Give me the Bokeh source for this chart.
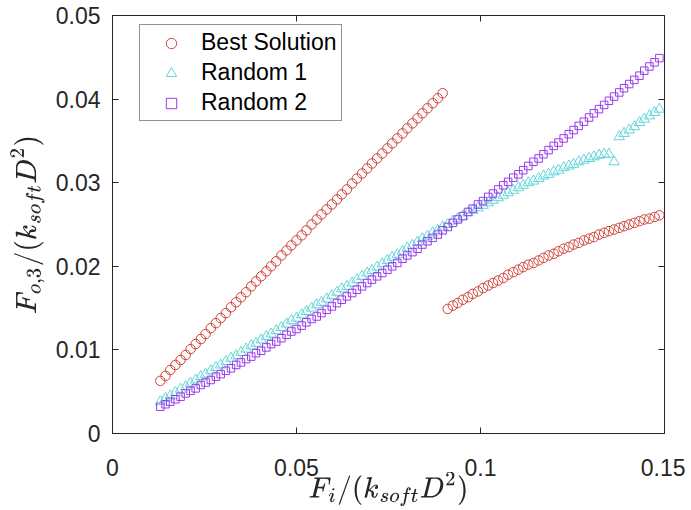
from bokeh.plotting import figure
from bokeh.models import LinearAxis, Range1d, FixedTicker, Legend, LegendItem
from bokeh.embed import file_html
from bokeh.resources import INLINE

x_vals = [0.0130, 0.0144, 0.0157, 0.0171, 0.0185, 0.0199, 0.0212, 0.0226, 0.0240, 0.0253,
          0.0267, 0.0281, 0.0294, 0.0308, 0.0322, 0.0336, 0.0349, 0.0363, 0.0377, 0.0390,
          0.0404, 0.0418, 0.0431, 0.0445, 0.0459, 0.0473, 0.0486, 0.0500, 0.0514, 0.0527,
          0.0541, 0.0555, 0.0568, 0.0582, 0.0596, 0.0610, 0.0623, 0.0637, 0.0651, 0.0664,
          0.0678, 0.0692, 0.0705, 0.0719, 0.0733, 0.0747, 0.0760, 0.0774, 0.0788, 0.0801,
          0.0815, 0.0829, 0.0842, 0.0856, 0.0870, 0.0884, 0.0897, 0.0911, 0.0925, 0.0938,
          0.0952, 0.0966, 0.0979, 0.0993, 0.1007, 0.1021, 0.1034, 0.1048, 0.1062, 0.1075,
          0.1089, 0.1103, 0.1116, 0.1130, 0.1144, 0.1158, 0.1171, 0.1185, 0.1199, 0.1212,
          0.1226, 0.1240, 0.1253, 0.1267, 0.1281, 0.1295, 0.1308, 0.1322, 0.1336, 0.1349,
          0.1363, 0.1377, 0.1390, 0.1404, 0.1418, 0.1432, 0.1445, 0.1459, 0.1473, 0.1486]

best_y = [0.0063, 0.0069, 0.0076, 0.0082, 0.0088, 0.0094, 0.0101, 0.0107, 0.0113, 0.0119,
          0.0126, 0.0132, 0.0138, 0.0144, 0.0151, 0.0157, 0.0163, 0.0169, 0.0176, 0.0182,
          0.0188, 0.0194, 0.0200, 0.0206, 0.0213, 0.0219, 0.0225, 0.0231, 0.0237, 0.0243,
          0.0250, 0.0256, 0.0262, 0.0268, 0.0274, 0.0280, 0.0286, 0.0292, 0.0299, 0.0305,
          0.0311, 0.0317, 0.0323, 0.0329, 0.0335, 0.0341, 0.0347, 0.0353, 0.0359, 0.0365,
          0.0371, 0.0377, 0.0383, 0.0389, 0.0395, 0.0401, 0.0407,
          0.0149, 0.0153, 0.0156, 0.0160, 0.0163, 0.0167, 0.0170, 0.0174, 0.0177, 0.0180,
          0.0183, 0.0186, 0.0190, 0.0193, 0.0196, 0.0199, 0.0202, 0.0204, 0.0207, 0.0210,
          0.0213, 0.0215, 0.0218, 0.0221, 0.0223, 0.0226, 0.0228, 0.0231, 0.0233, 0.0235,
          0.0238, 0.0240, 0.0242, 0.0244, 0.0246, 0.0248, 0.0250, 0.0252, 0.0254, 0.0256,
          0.0257, 0.0259, 0.0261]

random1_y = [0.0038, 0.0042, 0.0045, 0.0049, 0.0053, 0.0056, 0.0060, 0.0064, 0.0068, 0.0071,
             0.0075, 0.0079, 0.0082, 0.0086, 0.0090, 0.0093, 0.0097, 0.0101, 0.0105, 0.0108,
             0.0112, 0.0116, 0.0119, 0.0123, 0.0127, 0.0131, 0.0135, 0.0138, 0.0142, 0.0146,
             0.0150, 0.0154, 0.0157, 0.0161, 0.0165, 0.0169, 0.0173, 0.0176, 0.0180, 0.0184,
             0.0188, 0.0192, 0.0195, 0.0199, 0.0203, 0.0207, 0.0211, 0.0214, 0.0218, 0.0222,
             0.0225, 0.0229, 0.0233, 0.0236, 0.0240, 0.0243, 0.0247, 0.0250, 0.0254, 0.0257,
             0.0260, 0.0264, 0.0267, 0.0270, 0.0273, 0.0276, 0.0279, 0.0282, 0.0285, 0.0288,
             0.0291, 0.0294, 0.0297, 0.0300, 0.0302, 0.0305, 0.0308, 0.0310, 0.0313, 0.0315,
             0.0318, 0.0320, 0.0322, 0.0325, 0.0327, 0.0329, 0.0331, 0.0333, 0.0334, 0.0334,
             0.0325, 0.0355, 0.0359, 0.0363, 0.0367, 0.0372, 0.0376, 0.0380, 0.0384, 0.0388]

random2_y = [0.0032, 0.0035, 0.0038, 0.0041, 0.0044, 0.0048, 0.0051, 0.0054, 0.0058, 0.0061,
             0.0064, 0.0068, 0.0071, 0.0075, 0.0078, 0.0082, 0.0085, 0.0089, 0.0092, 0.0096,
             0.0099, 0.0103, 0.0107, 0.0110, 0.0114, 0.0118, 0.0122, 0.0125, 0.0129, 0.0133,
             0.0137, 0.0140, 0.0144, 0.0148, 0.0152, 0.0156, 0.0160, 0.0164, 0.0168, 0.0172,
             0.0176, 0.0180, 0.0184, 0.0188, 0.0192, 0.0196, 0.0200, 0.0204, 0.0209, 0.0213,
             0.0217, 0.0221, 0.0226, 0.0230, 0.0234, 0.0238, 0.0243, 0.0247, 0.0252, 0.0256,
             0.0260, 0.0265, 0.0269, 0.0274, 0.0278, 0.0283, 0.0287, 0.0292, 0.0297, 0.0301,
             0.0306, 0.0310, 0.0315, 0.0320, 0.0325, 0.0329, 0.0334, 0.0339, 0.0344, 0.0348,
             0.0353, 0.0358, 0.0363, 0.0368, 0.0373, 0.0378, 0.0383, 0.0388, 0.0393, 0.0398,
             0.0403, 0.0408, 0.0413, 0.0418, 0.0423, 0.0428, 0.0434, 0.0439, 0.0444, 0.0449]

series_names = ["Best Solution", "Random 1", "Random 2"]

x_ticks = [0, 0.05, 0.1, 0.15]
x_tick_labels = ["0", "0.05", "0.1", "0.15"]
y_ticks = [0, 0.01, 0.02, 0.03, 0.04, 0.05]
y_tick_labels = ["0", "0.01", "0.02", "0.03", "0.04", "0.05"]

AX = "#262626"
FONT = "Liberation Sans"

p = figure(width=685, height=510, x_range=Range1d(0, 0.15), y_range=Range1d(0, 0.05),
           output_backend="svg", toolbar_location=None,
           min_border_left=112, min_border_right=21, min_border_top=15, min_border_bottom=77)
p.xgrid.visible = False
p.ygrid.visible = False
p.outline_line_color = AX
p.outline_line_width = 1
p.background_fill_color = "white"
p.border_fill_color = "white"

def style_axis(ax, ticks, labels, show_labels):
    ax.ticker = FixedTicker(ticks=ticks)
    ax.major_tick_in = 6
    ax.major_tick_out = 0
    ax.minor_tick_in = 0
    ax.minor_tick_out = 0
    ax.axis_line_color = AX
    ax.axis_line_width = 1
    ax.major_tick_line_color = AX
    ax.major_tick_line_width = 1
    if show_labels:
        ax.major_label_overrides = {t: l for t, l in zip(ticks, labels)}
        ax.major_label_text_font = FONT
        ax.major_label_text_font_size = "23px"
        ax.major_label_text_color = AX
    else:
        ax.major_label_overrides = {t: "" for t in ticks}
        ax.major_label_text_font_size = "1px"
        ax.major_label_standoff = 0

xa = p.xaxis[0]
ya = p.yaxis[0]
style_axis(xa, x_ticks, x_tick_labels, True)
style_axis(ya, y_ticks, y_tick_labels, True)
xa.major_label_standoff = 25
ya.major_label_standoff = 12

xa.axis_label = r"$$F_i/(k_{soft}D^2)$$"
ya.axis_label = r"$$F_{o,3}/(k_{soft}D^2)$$"
for a in (xa, ya):
    a.axis_label_text_font_size = "24px"
    a.axis_label_text_color = AX
    a.axis_label_text_font_style = "normal"
xa.axis_label_standoff = -7
ya.axis_label_standoff = 8

top = LinearAxis()
right = LinearAxis()
style_axis(top, x_ticks, x_tick_labels, False)
style_axis(right, y_ticks, y_tick_labels, False)
p.add_layout(top, "above")
p.add_layout(right, "right")

r_best = p.scatter(x_vals, best_y, marker="circle", size=9.5, fill_color=None,
                   line_color="#d0443a", line_width=1)
r_r1 = p.scatter(x_vals, random1_y, marker="triangle", size=10.5, fill_color=None,
                 line_color="#62d6d8", line_width=1)
r_r2 = p.scatter(x_vals, random2_y, marker="square", size=7.5, fill_color=None,
                 line_color="#9b3ceb", line_width=1)

legend = Legend(items=[LegendItem(label=series_names[0], renderers=[r_best]),
                       LegendItem(label=series_names[1], renderers=[r_r1]),
                       LegendItem(label=series_names[2], renderers=[r_r2])],
                location=(27, 312))
legend.border_line_color = AX
legend.border_line_width = 1
legend.background_fill_color = "white"
legend.background_fill_alpha = 1
legend.label_text_font = FONT
legend.label_text_font_size = "23px"
legend.label_text_color = "black"
legend.glyph_width = 54
legend.glyph_height = 26
legend.label_height = 26
legend.spacing = 3
legend.padding = 4
legend.label_standoff = 3
legend.margin = 0
p.add_layout(legend)

open("out.html", "w").write(file_html(p, INLINE))
